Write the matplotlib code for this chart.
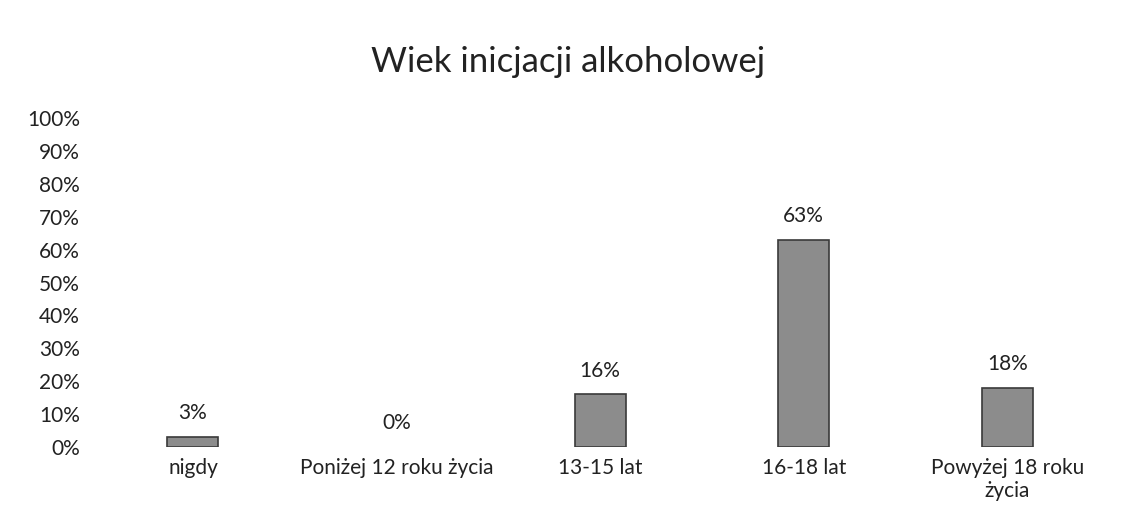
import matplotlib.pyplot as plt
from matplotlib.ticker import PercentFormatter

plt.rcParams['font.family'] = ['Lato', 'DejaVu Sans']

kategorie = ['nigdy', 'Poniżej 12 roku życia', '13-15 lat', '16-18 lat', 'Powyżej 18 roku\nżycia']
wartosci = [3, 0, 16, 63, 18]
etykiety = ['3%', '0%', '16%', '63%', '18%']
yticki = list(range(0, 101, 10))

fig = plt.figure(figsize=(11.25, 5.18), dpi=100)
ax = fig.add_axes([0.081, 0.137, 0.905, 0.635])

x = list(range(len(kategorie)))
bary = ax.bar(x, wartosci, width=0.25, color='#8c8c8c', edgecolor='#3a3a3a', linewidth=1.2)
for b, v in zip(bary, wartosci):
    if v == 0:
        b.set_linewidth(0)

for xi, v, t in zip(x, wartosci, etykiety):
    ax.annotate(t, (xi, v), xytext=(0, 10), textcoords='offset points',
                ha='center', va='bottom', fontsize=15, color='#222222')

ax.set_xlim(-0.5, 4.5)
ax.set_ylim(0, 100)
ax.set_yticks(yticki)
ax.yaxis.set_major_formatter(PercentFormatter(decimals=0))
ax.set_xticks(x)
ax.set_xticklabels(kategorie)
ax.tick_params(axis='both', length=0, labelsize=15, colors='#222222')
ax.tick_params(axis='x', pad=8)
ax.tick_params(axis='y', pad=8)
for s in ax.spines.values():
    s.set_visible(False)

fig.text(0.505, 0.88, 'Wiek inicjacji alkoholowej', ha='center', va='center',
         fontsize=25, color='#222222')

fig.savefig('out.png', dpi=100, facecolor='white')
